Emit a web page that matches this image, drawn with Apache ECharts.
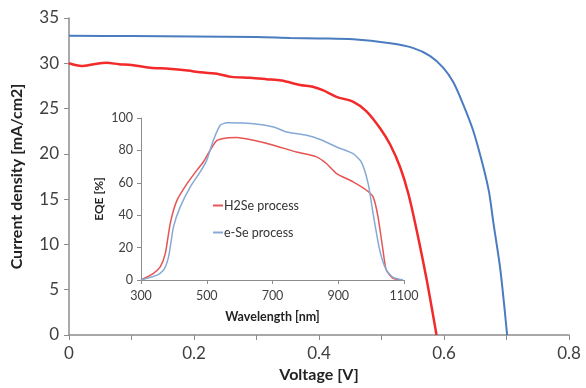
<!DOCTYPE html>
<html>
<head>
<meta charset="utf-8">
<script src="https://cdn.jsdelivr.net/npm/echarts@6/dist/echarts.min.js"></script>
<style>
  html, body { margin: 0; padding: 0; background: #fff; }
  #chart { width: 586px; height: 388px; }
</style>
</head>
<body>
<div id="chart"></div>
<script>
// J-V curves: [voltage V, current density mA/cm2]
const jvH2Se = [
  [0, 30.0], [0.02, 29.7], [0.04, 29.9], [0.06, 30.05], [0.08, 29.9], [0.1, 29.8],
  [0.13, 29.5], [0.16, 29.4], [0.19, 29.2], [0.21, 29.0], [0.24, 28.8], [0.26, 28.5],
  [0.29, 28.4], [0.316, 28.25], [0.34, 28.1], [0.37, 27.6], [0.39, 27.4], [0.407, 27.0],
  [0.428, 26.3], [0.455, 25.75], [0.476, 24.7], [0.498, 22.8], [0.514, 21.0],
  [0.53, 18.5], [0.543, 15.6], [0.556, 11.65], [0.572, 6.2], [0.588, 0]
];
const jvESe = [
  [0, 33.05], [0.1, 33.0], [0.2, 32.95], [0.3, 32.9], [0.354, 32.8], [0.4, 32.75],
  [0.455, 32.65], [0.514, 32.2], [0.55, 31.7], [0.578, 30.8], [0.599, 29.5],
  [0.615, 27.9], [0.631, 25.4], [0.647, 22.5], [0.662, 18.8], [0.672, 15.8],
  [0.679, 12.4], [0.69, 7.3], [0.701, 0]
];
// EQE curves: [wavelength nm, EQE %]
const eqeH2Se = [
  [300, 0], [338, 4.1], [359, 8.2], [374, 16.4], [389, 35], [409, 49], [440, 59.5],
  [470, 67.8], [490, 73], [510, 80], [531, 86.2], [561, 87.7], [591, 87.9], [642, 86.2],
  [703, 83.2], [773, 79], [834, 76], [864, 71.9], [895, 65.7], [945, 60.6], [986, 55.4],
  [1006, 51.3], [1021, 39], [1036, 18.5], [1046, 6.2], [1067, 1], [1097, 0]
];
const eqeESe = [
  [300, 0], [349, 3], [369, 6.2], [384, 14.4], [399, 32.9], [419, 45], [450, 57.5],
  [480, 66.7], [500, 74], [520, 86.2], [541, 95.5], [561, 97.1], [642, 96.5], [703, 94.5],
  [743, 91.4], [804, 89.3], [845, 86.7], [895, 82.1], [945, 78], [970, 72.9], [991, 59.5],
  [1006, 41], [1026, 18.5], [1046, 6.2], [1067, 1.6], [1097, 0]
];

const font = 'Lato, "Open Sans", sans-serif';
const axisGray = '#8c8c8c';
const labelColor = '#404040';

const chart = echarts.init(document.getElementById('chart'), null, { renderer: 'canvas' });

chart.setOption({
  animation: false,
  textStyle: { fontFamily: font },
  grid: [
    { left: 69, top: 18, width: 500, height: 323 },
    { left: 141, top: 118, width: 263, height: 162, show: true, backgroundColor: '#fff', borderWidth: 0 }
  ],
  legend: {
    data: ['H2Se process', 'e-Se process'],
    orient: 'vertical',
    left: 208,
    top: 194,
    itemGap: 14,
    itemWidth: 10,
    itemHeight: 2,
    icon: 'rect',
    textStyle: { fontFamily: font, fontSize: 12.5, color: '#333', padding: [0, 0, 0, -4] }
  },
  xAxis: [
    {
      gridIndex: 0, type: 'value', min: 0, max: 0.8, interval: 0.1,
      name: 'Voltage [V]', nameLocation: 'middle', nameGap: 32,
      nameTextStyle: { fontFamily: font, fontSize: 16, fontWeight: 'bold', color: '#222' },
      axisLine: { lineStyle: { color: axisGray, width: 1.5 } },
      axisTick: { show: true, length: 5, lineStyle: { color: axisGray } },
      splitLine: { show: false },
      axisLabel: {
        fontSize: 17, color: labelColor, margin: 10,
        formatter: (v) => Math.round(v * 10) % 2 === 0 ? String(Math.round(v * 10) / 10) : ''
      }
    },
    {
      gridIndex: 1, type: 'value', min: 300, max: 1100, interval: 200,
      name: 'Wavelength [nm]', nameLocation: 'middle', nameGap: 30,
      nameTextStyle: { fontFamily: font, fontSize: 12.5, fontWeight: 'bold', color: '#222' },
      axisLine: { lineStyle: { color: axisGray } },
      axisTick: { show: true, length: 4, lineStyle: { color: axisGray } },
      splitLine: { show: false },
      axisLabel: { fontSize: 12.5, color: labelColor, margin: 9, formatter: (v) => String(v) }
    }
  ],
  yAxis: [
    {
      gridIndex: 0, type: 'value', min: 0, max: 35, interval: 5,
      name: 'Current density [mA/cm2]', nameLocation: 'middle', nameGap: 44,
      nameTextStyle: { fontFamily: font, fontSize: 16, fontWeight: 'bold', color: '#222' },
      axisLine: { show: true, lineStyle: { color: axisGray, width: 1.5 } },
      axisTick: { show: true, length: 5, lineStyle: { color: axisGray } },
      splitLine: { show: false },
      axisLabel: { fontSize: 17, color: labelColor, margin: 10 }
    },
    {
      gridIndex: 1, type: 'value', min: 0, max: 100, interval: 20,
      name: 'EQE [%]', nameLocation: 'middle', nameGap: 36,
      nameTextStyle: { fontFamily: font, fontSize: 12, fontWeight: 'bold', color: '#222' },
      axisLine: { show: true, lineStyle: { color: axisGray } },
      axisTick: { show: true, length: 4, lineStyle: { color: axisGray } },
      splitLine: { show: false },
      axisLabel: { fontSize: 12.5, color: labelColor, margin: 8 }
    }
  ],
  series: [
    {
      name: 'J-V H2Se', type: 'line', xAxisIndex: 0, yAxisIndex: 0,
      data: jvH2Se, showSymbol: false, smooth: 0.3,
      lineStyle: { color: '#f22a2a', width: 2.5 }, itemStyle: { color: '#f22a2a' }
    },
    {
      name: 'J-V e-Se', type: 'line', xAxisIndex: 0, yAxisIndex: 0,
      data: jvESe, showSymbol: false, smooth: 0.3,
      lineStyle: { color: '#4a7cc0', width: 2 }, itemStyle: { color: '#4a7cc0' }
    },
    {
      name: 'H2Se process', type: 'line', xAxisIndex: 1, yAxisIndex: 1,
      data: eqeH2Se, showSymbol: false, smooth: 0.2,
      lineStyle: { color: '#e65454', width: 1.5 }, itemStyle: { color: '#e65454' }
    },
    {
      name: 'e-Se process', type: 'line', xAxisIndex: 1, yAxisIndex: 1,
      data: eqeESe, showSymbol: false, smooth: 0.2,
      lineStyle: { color: '#86a9d6', width: 1.5 }, itemStyle: { color: '#86a9d6' }
    }
  ]
});
</script>
</body>
</html>
